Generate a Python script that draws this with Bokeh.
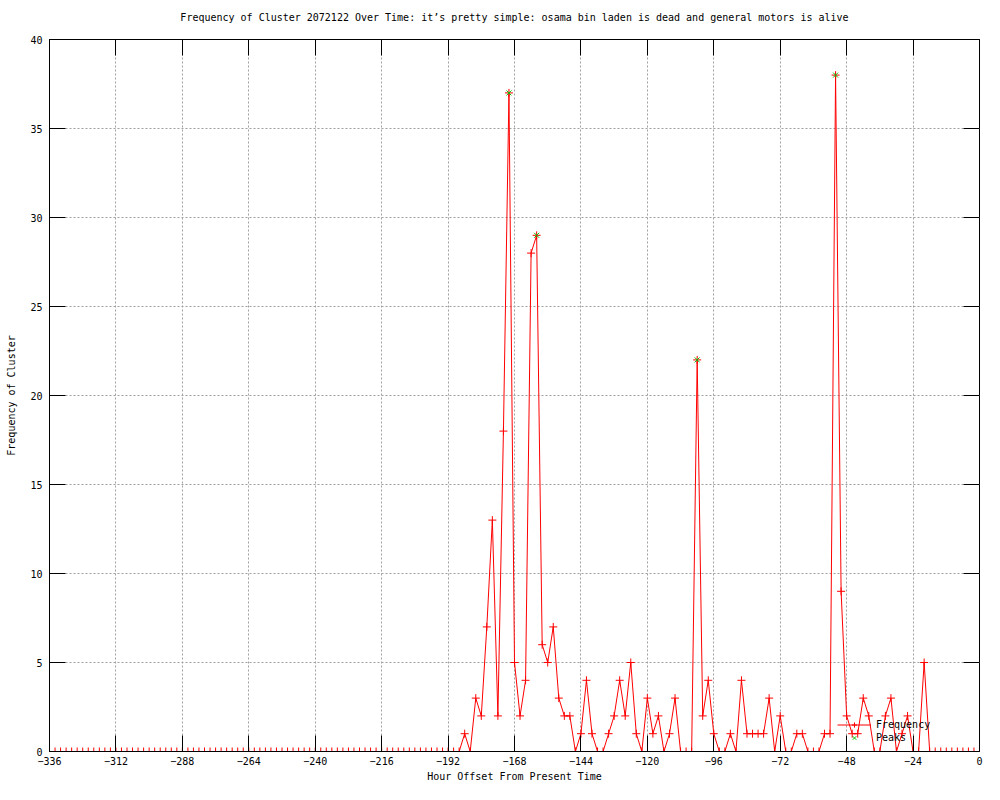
import math
from bokeh.plotting import figure
from bokeh.models import (LinearAxis, SingleIntervalTicker, Range1d, Legend,
                          LegendItem, CustomLabelingPolicy)
from bokeh.embed import file_html
from bokeh.resources import INLINE

TITLE = ("Frequency of Cluster 2072122 Over Time: it\u2019s pretty simple: "
         "osama bin laden is dead and general motors is alive")
X_LABEL = "Hour Offset From Present Time"
Y_LABEL = "Frequency of Cluster"

# hour offsets, one point every 2 hours from -336 to 0
hours = list(range(-336, 1, 2))

# frequency at each hour offset
freq_early = [0] * 75          # -336 .. -188 : all zero
freq_active = [
    1, 0, 3, 2, 7, 13, 2, 18, 37, 5,      # -186 .. -168
    2, 4, 28, 29, 6, 5, 7, 3, 2, 2,       # -166 .. -148
    0, 1, 4, 1, 0, 0, 1, 2, 4, 2,         # -146 .. -128
    5, 1, 0, 3, 1, 2, 0, 1, 3, 0,         # -126 .. -108
    0, 0, 22, 2, 4, 1, 0, 0, 1, 0,        # -106 .. -88
    4, 1, 1, 1, 1, 3, 0, 2, 0, 0,         # -86 .. -68
    1, 1, 0, 0, 0, 1, 1, 38, 9, 2,        # -66 .. -48
    1, 1, 3, 2, 0, 0, 2, 3, 0, 1,         # -46 .. -28
    2, 0, 0, 5, 0,                        # -26 .. -18
]
freq_late = [0] * 9            # -16 .. 0 : all zero
frequency = freq_early + freq_active + freq_late

peak_hours = [-170, -160, -102, -52]
peak_values = [37, 29, 22, 38]

# y-axis tick values (mirrored as inward ticks on the right border)
y_ticks = [0, 5, 10, 15, 20, 25, 30, 35, 40]

FONT = "DejaVu Sans Mono"
RED = "#ff0000"
GREEN = "#00c000"
GRID = "#a0a0a0"

p = figure(width=984, height=784, output_backend="svg", toolbar_location=None,
           x_range=Range1d(-336, 0), y_range=Range1d(0, 40),
           title=TITLE,
           min_border_left=49, min_border_right=5,
           min_border_top=39, min_border_bottom=32)

p.title.align = "center"
p.title.text_font = FONT
p.title.text_font_size = "10px"
p.title.text_font_style = "normal"
p.title.text_color = "black"
p.title.standoff = 12

p.outline_line_color = "black"
p.outline_line_width = 1
p.background_fill_color = "white"
p.border_fill_color = "white"

xt = SingleIntervalTicker(interval=24)
yt = SingleIntervalTicker(interval=5)

def style_axis(ax):
    ax.major_tick_in = 16
    ax.major_tick_out = 0
    ax.minor_tick_in = 0
    ax.minor_tick_out = 0
    ax.axis_line_color = "black"
    ax.major_tick_line_color = "black"
    ax.major_label_text_font = FONT
    ax.major_label_text_font_size = "10px"
    ax.major_label_text_color = "black"
    ax.axis_label_text_font = FONT
    ax.axis_label_text_font_size = "10px"
    ax.axis_label_text_font_style = "normal"
    ax.axis_label_text_color = "black"

p.xaxis.ticker = xt
p.yaxis.ticker = yt
style_axis(p.xaxis[0])
style_axis(p.yaxis[0])
p.xaxis.axis_label = X_LABEL
p.yaxis.axis_label = Y_LABEL
p.xaxis.major_label_standoff = 5
p.yaxis.major_label_standoff = 7
p.xaxis.axis_label_standoff = 3
p.yaxis.axis_label_standoff = 10

# mirrored tick marks on top, without labels
no_labels = CustomLabelingPolicy(code="""
    const all = [...indices]
    for (const i of all) indices.unset(i)
    return indices
""")
top_ax = LinearAxis(ticker=xt, major_label_policy=no_labels)
style_axis(top_ax)
top_ax.major_label_standoff = 0
top_ax.axis_label_standoff = 0
p.add_layout(top_ax, "above")

p.xgrid.ticker = xt
p.ygrid.ticker = yt
for g in (p.xgrid[0], p.ygrid[0]):
    g.grid_line_color = GRID
    g.grid_line_dash = "2 2"
    g.grid_line_width = 1

# mirrored inward ticks on the right border
p.ray(x=[0] * len(y_ticks), y=y_ticks, length=16, length_units="screen",
      angle=math.pi, line_color="black", line_width=1)

line = p.line(hours, frequency, line_color=RED, line_width=1)
pts = p.scatter(hours, frequency, marker="cross", size=8, line_color=RED,
                line_width=1)
peaks = p.scatter(peak_hours, peak_values, marker="x", size=7,
                  line_color=GREEN, line_width=1)

legend = Legend(items=[LegendItem(label="Frequency", renderers=[line, pts]),
                       LegendItem(label="Peaks", renderers=[peaks])],
                location=(786, 5))
legend.background_fill_alpha = 0
legend.border_line_alpha = 0
legend.label_text_font = FONT
legend.label_text_font_size = "10px"
legend.label_text_color = "black"
legend.label_height = 13
legend.glyph_height = 13
legend.glyph_width = 34
legend.label_standoff = 5
legend.spacing = 0
legend.padding = 2
legend.margin = 0
p.add_layout(legend, "center")

open("out.html", "w").write(file_html(p, INLINE))
